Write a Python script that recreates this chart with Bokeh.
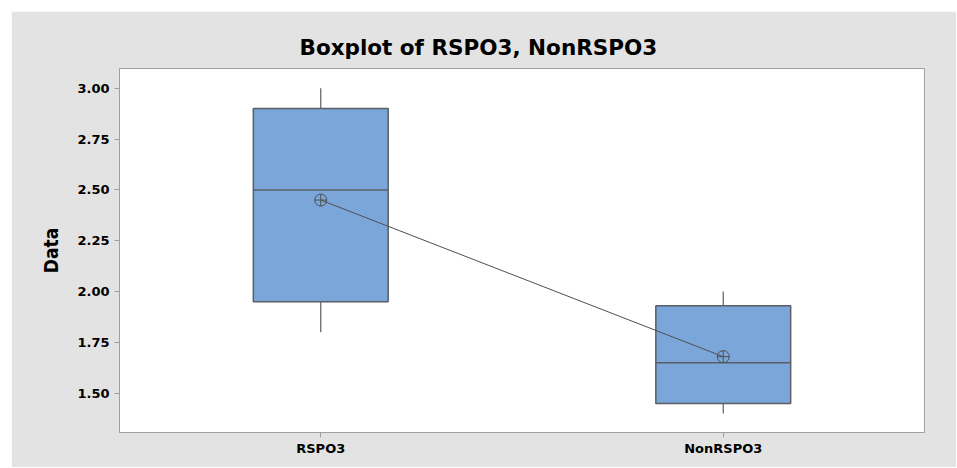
from bokeh.plotting import figure
from bokeh.models import ColumnDataSource, FactorRange, Range1d, FixedTicker, PrintfTickFormatter
from bokeh.transform import dodge
from bokeh.embed import file_html
from bokeh.resources import INLINE

categories = ["RSPO3", "NonRSPO3"]
whisker_low = [1.80, 1.40]
q1 = [1.95, 1.45]
median = [2.50, 1.65]
q3 = [2.90, 1.93]
whisker_high = [3.00, 2.00]
mean = [2.45, 1.68]
y_ticks = [1.50, 1.75, 2.00, 2.25, 2.50, 2.75, 3.00]

src = ColumnDataSource(dict(cat=categories, lo=whisker_low, q1=q1, med=median,
                            q3=q3, hi=whisker_high, mean=mean))

BOX_W = 0.335
GRAY = "#5a5f66"
AXIS_GRAY = "#a0a0a0"

p = figure(x_range=FactorRange(factors=categories, range_padding=0),
           y_range=Range1d(1.307, 3.097),
           width=945, height=456, output_backend="svg", toolbar_location=None,
           min_border_left=108, min_border_top=57, min_border_right=32, min_border_bottom=35,
           title="Boxplot of RSPO3, NonRSPO3")
p.margin = (11, 0, 0, 11)
p.background_fill_color = "white"
p.border_fill_color = "#e3e3e3"
p.outline_line_color = AXIS_GRAY
p.outline_line_width = 1
p.xgrid.visible = False
p.ygrid.visible = False

p.title.text_font = "DejaVu Sans"
p.title.text_font_style = "bold"
p.title.text_font_size = "21.5px"
p.title.align = "left"
p.title.offset = 180
p.title.standoff = 17
p.title.text_color = "black"

# whiskers
p.segment(x0="cat", x1="cat", y0="q3", y1="hi", source=src, line_color=GRAY, line_width=1.2)
p.segment(x0="cat", x1="cat", y0="q1", y1="lo", source=src, line_color=GRAY, line_width=1.2)
# boxes
p.vbar(x="cat", top="q3", bottom="q1", width=BOX_W, source=src,
       fill_color="#7ba6d9", line_color=GRAY, line_width=1.5)
# medians
p.segment(x0=dodge("cat", -BOX_W / 2, range=p.x_range), x1=dodge("cat", BOX_W / 2, range=p.x_range),
          y0="med", y1="med", source=src, line_color=GRAY, line_width=1.5)
# mean connect line
p.line(x="cat", y="mean", source=src, line_color="#505050", line_width=1)
p.scatter(x="cat", y="mean", source=src, marker="circle_cross", size=12,
          fill_color=None, line_color="#505050", line_width=1)

# y axis
p.yaxis.ticker = FixedTicker(ticks=y_ticks)
p.yaxis.formatter = PrintfTickFormatter(format="%.2f")
p.yaxis.axis_label = "Data"
p.yaxis.axis_label_text_font = "'DejaVu Sans Condensed', Roboto, sans-serif"
p.yaxis.axis_label_text_font_style = "bold"
p.yaxis.axis_label_text_font_size = "19px"
p.yaxis.axis_label_text_color = "black"
p.yaxis.axis_label_standoff = 12
p.yaxis.minor_tick_line_color = None

for ax in (p.xaxis[0], p.yaxis[0]):
    ax.axis_line_color = AXIS_GRAY
    ax.major_tick_line_color = AXIS_GRAY
    ax.major_tick_out = 5
    ax.major_tick_in = 0
    ax.major_label_text_font = "DejaVu Sans"
    ax.major_label_text_font_style = "bold"
    ax.major_label_text_color = "black"
    ax.major_label_standoff = 5

p.yaxis.major_label_text_font_size = "13px"
p.xaxis.major_label_text_font_size = "13px"
p.xaxis.major_label_standoff = 3

open("out.html", "w").write(file_html(p, INLINE))
